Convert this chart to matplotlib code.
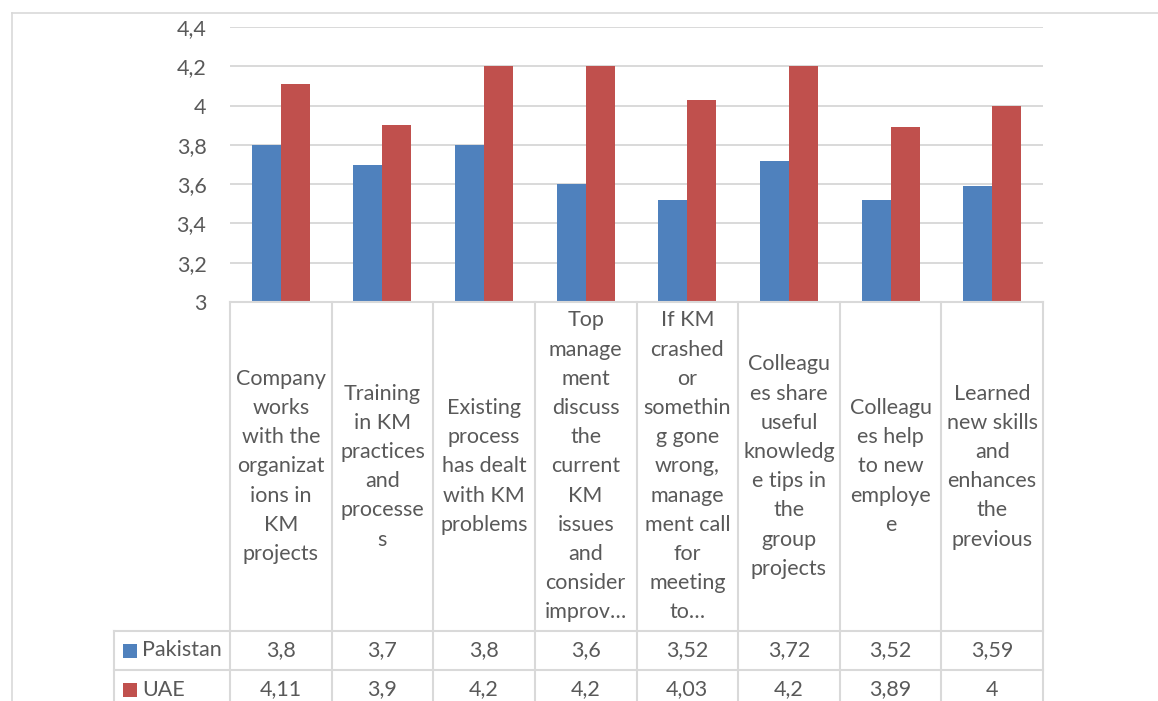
import numpy as np
import matplotlib.pyplot as plt
from matplotlib.lines import Line2D
from matplotlib.patches import Rectangle

# data
categories = [
    ["Company", "works", "with the", "organizat", "ions in", "KM", "projects"],
    ["Training", "in KM", "practices", "and", "processe", "s"],
    ["Existing", "process", "has dealt", "with KM", "problems"],
    ["Top", "manage", "ment", "discuss", "the", "current", "KM", "issues",
     "and", "consider", "improv\u2026"],
    ["If KM", "crashed", "or", "somethin", "g gone", "wrong,", "manage",
     "ment call", "for", "meeting", "to\u2026"],
    ["Colleagu", "es share", "useful", "knowledg", "e tips in", "the",
     "group", "projects"],
    ["Colleagu", "es help", "to new", "employe", "e"],
    ["Learned", "new skills", "and", "enhances", "the", "previous"],
]
series_names = ["Pakistan", "UAE"]
pakistan = [3.8, 3.7, 3.8, 3.6, 3.52, 3.72, 3.52, 3.59]
uae = [4.11, 3.9, 4.2, 4.2, 4.03, 4.2, 3.89, 4.0]
yticks = [3.0, 3.2, 3.4, 3.6, 3.8, 4.0, 4.2, 4.4]

W, H = 1158, 701
BLUE = "#4F81BD"
RED = "#C0504D"
GRID = "#D9D9D9"
TXT = "#595959"
FONT = "Lato"
FS = 15.5

def fx(x):
    return x / W

def fy(y):
    return 1 - y / H

def fmt(v):
    s = ("%.2f" % v).rstrip("0").rstrip(".")
    return s.replace(".", ",")

fig = plt.figure(figsize=(W / 100, H / 100), dpi=100)

# plot area in pixel coordinates
left, right, top, bottom = 230, 1043, 27, 302
ax = fig.add_axes([fx(left), fy(bottom), fx(right) - fx(left), fy(top) - fy(bottom)])

n = len(pakistan)
x = np.arange(n)
bw = 0.285
ax.bar(x - bw / 2, np.array(pakistan) - 3, bw, bottom=3, color=BLUE, zorder=3)
ax.bar(x + bw / 2, np.array(uae) - 3, bw, bottom=3, color=RED, zorder=3)
ax.set_xlim(-0.5, n - 0.5)
ax.set_ylim(3.0, 4.4)
ax.set_yticks(yticks)
ax.set_yticklabels([fmt(t) for t in yticks], fontsize=FS, color=TXT, family=FONT)
ax.set_xticks([])
ax.tick_params(axis="y", length=0, pad=17)
ax.grid(axis="y", color=GRID, linewidth=1.4, zorder=0)
for s in ax.spines.values():
    s.set_visible(False)

# outer frame of the chart
fig.add_artist(Line2D([fx(12), fx(W)], [fy(13), fy(13)], color=GRID, lw=1.2))
fig.add_artist(Line2D([fx(12), fx(12)], [fy(13), fy(H)], color=GRID, lw=1.2))

# data table below the plot
colw = (right - left) / n
row1, row2 = 631, 670
leg_left = 114
table_lines = [
    ([left, right], [bottom, bottom]),
    ([leg_left, right], [row1, row1]),
    ([leg_left, right], [row2, row2]),
    ([leg_left, leg_left], [row1, H]),
]
for i in range(n + 1):
    xx = left + i * colw
    table_lines.append(([xx, xx], [bottom, H]))
for xs, ys in table_lines:
    fig.add_artist(Line2D([fx(v) for v in xs], [fy(v) for v in ys],
                          color=GRID, lw=1.5))

# category labels, one text per wrapped line
line_h = 29.2
mid = (bottom + row1) / 2
for i, lines in enumerate(categories):
    cx = left + (i + 0.5) * colw
    k = len(lines)
    for j, s in enumerate(lines):
        yy = mid + (j - (k - 1) / 2) * line_h
        fig.text(fx(cx), fy(yy), s, ha="center", va="center",
                 fontsize=FS, color=TXT, family=FONT)

# value rows with legend keys
for name, vals, color, y0, y1 in [
    (series_names[0], pakistan, BLUE, row1, row2),
    (series_names[1], uae, RED, row2, row2 + 39),
]:
    cy = (y0 + y1) / 2
    fig.add_artist(Rectangle((fx(123), fy(cy + 7)), fx(14), 14 / H,
                             color=color, lw=0))
    fig.text(fx(142), fy(cy), name, ha="left", va="center",
             fontsize=FS, color=TXT, family=FONT)
    for i, v in enumerate(vals):
        cx = left + (i + 0.5) * colw
        fig.text(fx(cx), fy(cy), fmt(v), ha="center", va="center",
                 fontsize=FS, color=TXT, family=FONT)

fig.savefig("out.png", dpi=100)
